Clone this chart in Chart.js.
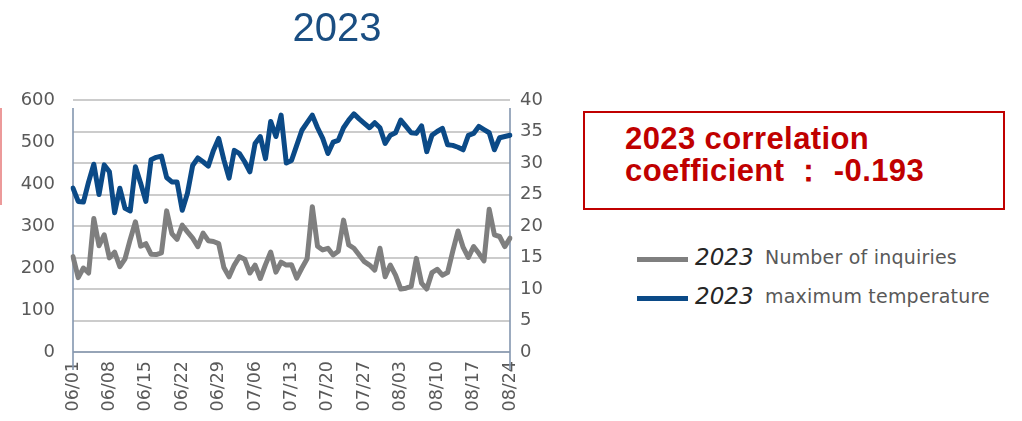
<!DOCTYPE html>
<html><head><meta charset="utf-8">
<script src="https://cdn.jsdelivr.net/npm/chart.js@4/dist/chart.umd.min.js"></script>
<style>
html,body{margin:0;padding:0;background:#fff;width:1022px;height:421px;overflow:hidden;}
#wrap{position:relative;width:1022px;height:421px;}
#c{position:absolute;left:0;top:0;}
#title{position:absolute;left:237px;width:200px;top:7px;text-align:center;font:40px/40px "Liberation Sans",Arial,sans-serif;color:#1a4e82;}
#edge{position:absolute;left:0;top:108px;width:2px;height:97px;background:#ec9a9a;}
#box{position:absolute;left:583px;top:111px;width:418px;height:95px;border:2px solid #c00000;box-sizing:content-box;}
#corr{position:absolute;left:625px;top:123px;font:bold 31px/32px "Liberation Sans",Arial,sans-serif;letter-spacing:0.4px;color:#c00000;white-space:nowrap;}
.lg{position:absolute;left:695px;font:italic 23px/30px "DejaVu Sans",sans-serif;color:#262626;white-space:nowrap;}
.lg .nm{font-style:normal;font-size:19px;letter-spacing:0.2px;color:#595959;position:absolute;left:70px;}
.sw{position:absolute;left:637px;width:51px;height:5px;}
</style></head>
<body><div id="wrap">
<canvas id="c" width="570" height="421"></canvas>
<div id="title"></div>
<div id="edge"></div>
<div id="box"></div>
<div id="corr"></div>
<div id="legend"></div>
</div>
<script>
const chartTitle = '2023';
const seriesYear = '2023';
const seriesNames = ['Number of inquiries', 'maximum temperature'];
const corrLines = ['2023 correlation', 'coefficient ： -0.193'];

const dates = ['06/01','06/02','06/03','06/04','06/05','06/06','06/07','06/08','06/09','06/10',
'06/11','06/12','06/13','06/14','06/15','06/16','06/17','06/18','06/19','06/20',
'06/21','06/22','06/23','06/24','06/25','06/26','06/27','06/28','06/29','06/30',
'07/01','07/02','07/03','07/04','07/05','07/06','07/07','07/08','07/09','07/10',
'07/11','07/12','07/13','07/14','07/15','07/16','07/17','07/18','07/19','07/20',
'07/21','07/22','07/23','07/24','07/25','07/26','07/27','07/28','07/29','07/30',
'07/31','08/01','08/02','08/03','08/04','08/05','08/06','08/07','08/08','08/09',
'08/10','08/11','08/12','08/13','08/14','08/15','08/16','08/17','08/18','08/19',
'08/20','08/21','08/22','08/23','08/24'];

const tickLabels = ['06/01','06/08','06/15','06/22','06/29','07/06','07/13','07/20','07/27','08/03','08/10','08/17','08/24'];

const inquiries = [227,177,200,188,318,253,279,224,238,203,
222,268,310,252,258,233,232,236,336,282,
268,302,286,271,251,283,265,263,258,201,
179,207,227,221,188,207,175,208,238,190,
214,207,208,176,200,222,346,252,243,247,
231,240,314,255,247,231,215,207,195,247,
179,207,183,150,152,156,223,164,150,189,
197,183,189,240,288,249,225,251,235,217,
340,279,275,251,271];

const maxTemp = [26,23.9,23.8,27,29.8,25,29.7,28.6,22.1,26,
22.8,22.4,29.4,26.8,23.9,30.5,30.9,31.1,27.7,27,
27,22.5,25.2,29.6,30.8,30.2,29.5,32,33.9,30.5,
27.6,32,31.5,30.2,28.6,33.1,34.2,30.7,36.6,34.2,
37.6,30,30.4,32.8,35.2,36.4,37.6,35.6,33.9,31.5,
33.3,33.6,35.6,36.8,37.8,37,36.3,35.6,36.4,35.6,
33.1,34.4,34.8,36.8,35.8,34.8,34.7,35.9,31.8,34.4,
35,35.5,32.9,32.8,32.5,32.1,34.4,34.7,35.8,35.3,
34.8,32.1,34,34.2,34.4];

const leftTicks = {min:0, max:600, step:100};
const rightTicks = {min:0, max:40, step:5};

const colors = ['#7f7f7f', '#0b4a87'];
const tickColor = '#595959';

document.getElementById('title').textContent = chartTitle;
const corr = document.getElementById('corr');
corrLines.forEach(t => { const d = document.createElement('div'); d.textContent = t; corr.appendChild(d); });

const axisLines = {
  id: 'axisLines',
  beforeDatasetsDraw(chart) {
    const {ctx, chartArea: a} = chart;
    ctx.save();
    ctx.strokeStyle = '#8497b0';
    ctx.lineWidth = 1.6;
    ctx.beginPath();
    ctx.moveTo(a.left, a.top + 8); ctx.lineTo(a.left, a.bottom + 18);
    ctx.moveTo(a.right, a.top + 8); ctx.lineTo(a.right, a.bottom + 18);
    ctx.moveTo(a.left, a.bottom); ctx.lineTo(a.right, a.bottom);
    ctx.stroke();
    ctx.restore();
  }
};

const canvasW = 570;
const chart = new Chart(document.getElementById('c'), {
  type: 'line',
  data: {
    labels: dates,
    datasets: [
      {label: seriesYear + ' ' + seriesNames[0], data: inquiries, yAxisID: 'y', borderColor: colors[0], backgroundColor: colors[0], borderWidth: 5, pointRadius: 0, tension: 0, borderJoinStyle: 'round', borderCapStyle: 'round'},
      {label: seriesYear + ' ' + seriesNames[1], data: maxTemp, yAxisID: 'y1', borderColor: colors[1], backgroundColor: colors[1], borderWidth: 5, pointRadius: 0, tension: 0, borderJoinStyle: 'round', borderCapStyle: 'round'}
    ]
  },
  options: {
    responsive: false, animation: false, devicePixelRatio: 1,
    layout: {padding: {top: 100, left: 0, right: 0, bottom: 0}},
    plugins: {legend: {display: false}, title: {display: false}, tooltip: {enabled: false}},
    scales: {
      x: {
        offset: false,
        grid: {display: false, drawTicks: false},
        border: {display: false},
        ticks: {
          autoSkip: false, minRotation: 90, maxRotation: 90, padding: 9,
          color: tickColor, font: {family: 'DejaVu Sans', size: 17.5},
          callback: (v, i) => tickLabels.includes(dates[i]) ? dates[i] : ''
        },
        afterFit: s => { s.height = 69; }
      },
      y: {
        position: 'left', min: leftTicks.min, max: leftTicks.max,
        grid: {display: false, drawTicks: false},
        border: {display: false},
        ticks: {stepSize: leftTicks.step, padding: 18, color: tickColor, font: {family: 'DejaVu Sans', size: 18}},
        afterFit: s => { s.width = 73; }
      },
      y1: {
        position: 'right', min: rightTicks.min, max: rightTicks.max,
        grid: {color: '#cccccc', lineWidth: 2, drawTicks: false},
        border: {display: false},
        ticks: {stepSize: rightTicks.step, padding: 10, color: tickColor, font: {family: 'DejaVu Sans', size: 18}},
        afterFit: s => { s.width = canvasW - 510; }
      }
    }
  },
  plugins: [axisLines]
});

// HTML legend built from the chart's datasets
const legend = document.getElementById('legend');
const rowTops = [242, 281];
chart.data.datasets.forEach((ds, k) => {
  const sw = document.createElement('div');
  sw.className = 'sw';
  sw.style.top = (rowTops[k] + 14.5) + 'px';
  sw.style.background = ds.borderColor;
  legend.appendChild(sw);
  const row = document.createElement('div');
  row.className = 'lg';
  row.style.top = rowTops[k] + 'px';
  const yr = document.createElement('span');
  yr.textContent = seriesYear;
  const nm = document.createElement('span');
  nm.className = 'nm';
  nm.textContent = seriesNames[k];
  row.appendChild(yr); row.appendChild(document.createTextNode(' ')); row.appendChild(nm);
  legend.appendChild(row);
});
</script>
</body></html>
